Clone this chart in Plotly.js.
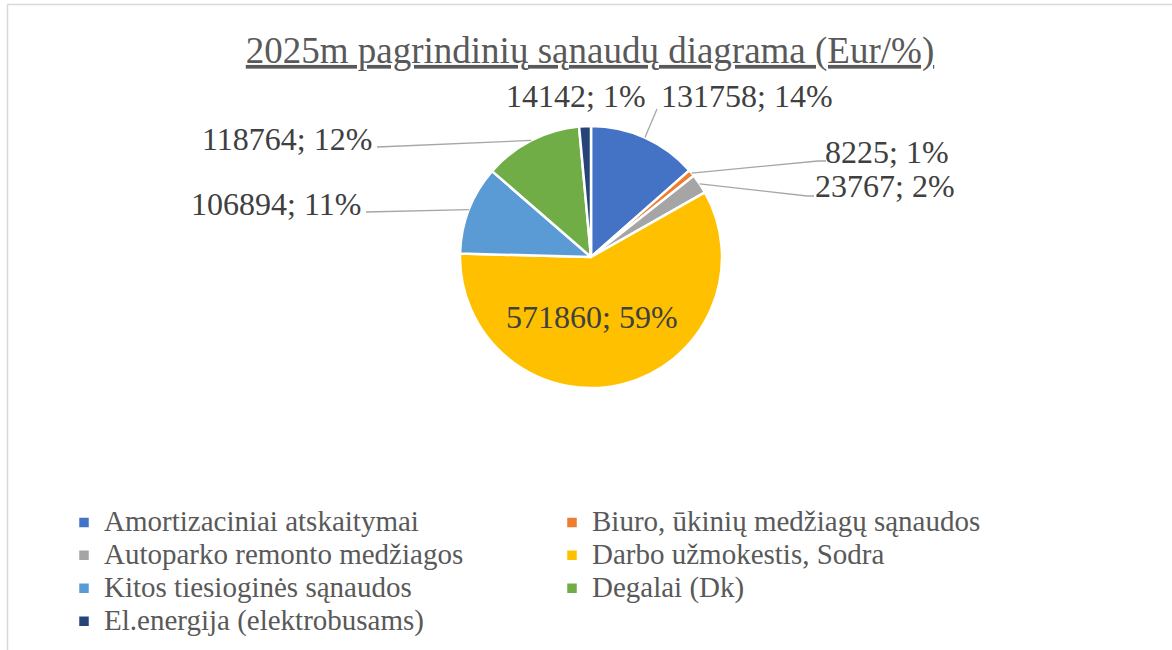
<!DOCTYPE html>
<html><head><meta charset="utf-8">
<script src="https://cdn.plot.ly/plotly-3.0.1.min.js"></script>
<style>html,body{margin:0;padding:0;background:#fff}#chart{width:1172px;height:650px}</style>
</head><body><div id="chart"></div>
<script>
// ---- data ----
const categories = [
  "Amortizaciniai atskaitymai",
  "Biuro, ūkinių medžiagų sąnaudos",
  "Autoparko remonto medžiagos",
  "Darbo užmokestis, Sodra",
  "Kitos tiesioginės sąnaudos",
  "Degalai (Dk)",
  "El.energija (elektrobusams)"
];
const values = [131758, 8225, 23767, 571860, 106894, 118764, 14142];
const percents = [14, 1, 2, 59, 11, 12, 1];
const colors = ["#4472C4", "#ED7D31", "#A5A5A5", "#FFC000", "#5B9BD5", "#70AD47", "#264478"];
const titleText = "2025m pagrindinių sąnaudų diagrama (Eur/%)";

// ---- layout constants (pixels) ----
const W = 1172, H = 650;
const CX = 591, CY = 257, R = 131;
// label centres (px) and leader-line end near the label (px); null = no leader
const labelPos = [[747, 96], [887, 152], [885, 186], [592, 317], [276, 204], [287, 139], [576, 96]];
const leaderEnd = [[[657, 109]], [[818, 161], [826, 161]], [[807, 196], [814, 196]], null, [[366, 212]], [[377, 147]], null];

const px = x => x / W, py = y => 1 - y / H;

const total = values.reduce((a, b) => a + b, 0);
let cum = 0;
const shapes = [{
  type: "rect", xref: "paper", yref: "paper", layer: "below",
  x0: px(7.5), x1: 1.05, y0: -0.05, y1: py(4.5),
  line: { color: "#d9d9d9", width: 1.5 }, fillcolor: "rgba(0,0,0,0)"
}];
const annotations = [];
values.forEach((v, i) => {
  const mid = (cum + v / 2) / total * 2 * Math.PI; cum += v;
  const sx = CX + R * Math.sin(mid), sy = CY - R * Math.cos(mid);
  if (leaderEnd[i]) {
    let path = "M" + px(sx) + "," + py(sy);
    leaderEnd[i].forEach(p => { path += " L" + px(p[0]) + "," + py(p[1]); });
    shapes.push({ type: "path", xref: "paper", yref: "paper", path: path,
      line: { color: "#a6a6a6", width: 1.3 } });
  }
  annotations.push({
    xref: "paper", yref: "paper", x: px(labelPos[i][0]), y: py(labelPos[i][1]),
    xanchor: "center", yanchor: "middle", showarrow: false,
    text: v + "; " + percents[i] + "%",
    font: { family: "Liberation Serif", size: 32, color: "#404040" }
  });
});

// legend entries: larger glyphs inside a compact row height
const legendNames = categories.map(c => '<span style="font-size:29px">' + c + '</span>');

const trace = {
  type: "pie", values: values, labels: legendNames, sort: false,
  direction: "clockwise", rotation: 0, textinfo: "none", hoverinfo: "value+percent",
  marker: { colors: colors, line: { color: "#ffffff", width: 2.5 } },
  domain: { x: [px(CX - R), px(CX + R)], y: [py(CY + R), py(CY - R)] }
};

const layout = {
  width: W, height: H, margin: { l: 0, r: 0, t: 0, b: 0 },
  paper_bgcolor: "#ffffff", plot_bgcolor: "#ffffff",
  title: { text: titleText, x: px(590), xanchor: "center", xref: "paper",
    y: py(50), yanchor: "middle", yref: "paper",
    font: { family: "Liberation Serif", size: 37, color: "#595959", lineposition: "under" } },
  showlegend: true,
  legend: { orientation: "h", x: px(64), xanchor: "left", y: py(501), yanchor: "top",
    entrywidth: 443, entrywidthmode: "pixels", traceorder: "normal",
    font: { family: "Liberation Serif", size: 23, color: "#595959" }, bgcolor: "rgba(0,0,0,0)" },
  shapes: shapes, annotations: annotations
};
Plotly.newPlot("chart", [trace], layout, { displayModeBar: false, staticPlot: true });
</script></body></html>
